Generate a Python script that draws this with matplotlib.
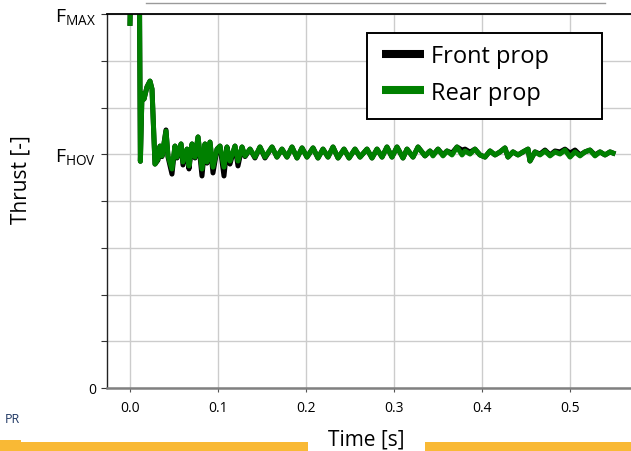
import matplotlib
matplotlib.use("Agg")
import matplotlib.pyplot as plt
from matplotlib.lines import Line2D
from matplotlib.patches import Rectangle

plt.rcParams['font.family'] = ['Open Sans', 'DejaVu Sans']
plt.rcParams['mathtext.fontset'] = 'custom'
plt.rcParams['mathtext.rm'] = 'Open Sans'

# thrust in % of hover thrust, F_MAX = 160
time_s = [0.0000, 0.0015, 0.0105, 0.0118, 0.0136, 0.0159, 0.0193, 0.0227, 0.0250, 0.0284,
          0.0318, 0.0341, 0.0364, 0.0409, 0.0432, 0.0477, 0.0511, 0.0534, 0.0580, 0.0602,
          0.0648, 0.0670, 0.0705, 0.0739, 0.0773, 0.0818, 0.0852, 0.0875, 0.0909, 0.0943,
          0.0989, 0.1023, 0.1068, 0.1102, 0.1136, 0.1193, 0.1227, 0.1273, 0.1307, 0.1364,
          0.1420, 0.1477, 0.1534, 0.1614, 0.1670, 0.1727, 0.1784, 0.1841, 0.1898, 0.1955,
          0.2011, 0.2080, 0.2136, 0.2193, 0.2250, 0.2307, 0.2364, 0.2432, 0.2489, 0.2557,
          0.2614, 0.2693, 0.2750, 0.2807, 0.2864, 0.2920, 0.2977, 0.3034, 0.3102, 0.3148,
          0.3216, 0.3273, 0.3352, 0.3409, 0.3443, 0.3500, 0.3557, 0.3602, 0.3659, 0.3716,
          0.3773, 0.3807, 0.3864, 0.3920, 0.3977, 0.4034, 0.4091, 0.4148, 0.4205, 0.4261,
          0.4295, 0.4352, 0.4409, 0.4466, 0.4523, 0.4545, 0.4602, 0.4659, 0.4716, 0.4773,
          0.4830, 0.4886, 0.4943, 0.5000, 0.5057, 0.5114, 0.5170, 0.5227, 0.5284, 0.5341,
          0.5398, 0.5455, 0.5489]

rear_prop = [156.0, 185.0, 185.0, 97.0, 125.8, 123.6, 128.8, 131.3, 127.9, 95.8,
             98.0, 103.5, 99.3, 109.9, 99.3, 93.7, 103.5, 98.8, 104.4, 96.7,
             102.2, 95.0, 104.4, 98.8, 107.4, 93.7, 104.4, 96.7, 105.2, 94.5,
             102.2, 103.5, 94.5, 103.1, 97.1, 103.5, 97.1, 103.1, 99.3, 102.2,
             98.8, 103.1, 98.8, 103.1, 98.8, 102.2, 98.8, 103.1, 98.4, 102.7,
             98.8, 102.7, 98.4, 102.2, 98.8, 103.1, 98.4, 102.2, 98.4, 102.2,
             98.8, 102.2, 98.4, 102.2, 98.8, 103.1, 98.8, 103.1, 98.4, 102.2,
             98.8, 103.1, 99.3, 101.4, 99.3, 102.2, 99.3, 101.4, 99.7, 103.1,
             99.7, 101.4, 100.1, 102.2, 99.7, 98.8, 101.4, 99.7, 101.0, 102.7,
             98.8, 101.0, 99.7, 101.0, 102.2, 97.1, 101.0, 99.7, 101.4, 99.3,
             101.0, 100.1, 101.8, 98.8, 101.0, 99.3, 101.0, 101.8, 99.3, 101.0,
             99.7, 101.0, 100.5]

front_prop = [156.0, 185.0, 185.0, 97.0, 125.8, 123.6, 128.8, 131.3, 127.9, 95.8,
              97.5, 103.5, 99.0, 110.4, 98.8, 91.5, 103.5, 98.4, 104.4, 95.4,
              102.2, 93.7, 104.4, 98.4, 107.4, 90.7, 104.4, 96.2, 105.2, 92.0,
              102.2, 103.5, 90.7, 103.1, 95.8, 103.5, 95.0, 103.1, 99.0, 102.2,
              98.4, 103.1, 98.4, 103.1, 98.8, 102.2, 98.8, 103.1, 98.4, 102.7,
              98.8, 102.7, 98.4, 102.2, 98.8, 103.1, 98.4, 102.2, 98.4, 102.2,
              98.8, 102.2, 98.4, 102.2, 98.8, 103.1, 98.8, 103.1, 98.4, 102.2,
              98.8, 103.1, 99.3, 101.4, 99.7, 102.2, 99.7, 101.4, 100.5, 103.1,
              101.8, 102.2, 100.9, 102.2, 99.7, 98.8, 101.4, 99.7, 101.0, 102.7,
              98.8, 101.0, 99.7, 101.0, 102.2, 97.1, 101.0, 100.1, 101.8, 99.7,
              101.4, 101.0, 102.2, 100.5, 101.8, 99.7, 101.0, 101.8, 99.7, 101.0,
              99.7, 101.0, 100.5]

y_ticks = [0, 20, 40, 60, 80, 100, 120, 140, 160]
y_tick_labels = ['0', '', '', '', '', r'$\mathrm{F}_{\mathrm{HOV}}$', '', '', r'$\mathrm{F}_{\mathrm{MAX}}$']
x_ticks = [0.0, 0.1, 0.2, 0.3, 0.4, 0.5]
x_tick_labels = ['0.0', '0.1', '0.2', '0.3', '0.4', '0.5']

W, H = 631, 452
fig = plt.figure(figsize=(W / 100, H / 100), dpi=100)
ax = fig.add_axes([107 / W, (H - 389) / H, (640 - 107) / W, (389 - 15) / H])

ax.plot(time_s, front_prop, color='black', lw=3.6, solid_joinstyle='round')
ax.plot(time_s, rear_prop, color='#008000', lw=3.6, solid_joinstyle='round')

ax.set_xlim(-23 / 880, 510 / 880)
ax.set_ylim(0, 160)
ax.set_xticks(x_ticks)
ax.set_xticklabels(x_tick_labels)
ax.set_yticks(y_ticks)
ax.set_yticklabels(y_tick_labels)
for i, lab in enumerate(ax.get_yticklabels()):
    lab.set_fontsize(14 if i in (5, 8) else 10)
ax.tick_params(axis='x', labelsize=10, length=3, color='#555555', pad=6)
ax.tick_params(axis='y', length=4, color='#333333', pad=4)
ax.grid(True, color='#cccccc', lw=1.0)
ax.set_axisbelow(True)

ax.spines['right'].set_visible(False)
ax.spines['top'].set_color('black')
ax.spines['top'].set_linewidth(1.3)
ax.spines['left'].set_color('#222222')
ax.spines['left'].set_linewidth(1.0)
ax.spines['bottom'].set_color('#808080')
ax.spines['bottom'].set_linewidth(1.8)

fig.text(21 / W, 1 - 180 / H, 'Thrust [-]', rotation=90, fontsize=15,
         ha='center', va='center')
fig.text(366 / W, 1 - 440 / H, 'Time [s]', fontsize=15, ha='center', va='center')

# legend frame drawn separately so it can be wider than its entries
fig.patches.append(Rectangle((367 / W, 1 - 120 / H), (602 - 367) / W, (120 - 34) / H,
                             transform=fig.transFigure, facecolor='white',
                             edgecolor='black', lw=1.4, zorder=5))
handles = [Line2D([], [], color='black', lw=5.8, solid_capstyle='butt'),
           Line2D([], [], color='#008000', lw=5.8, solid_capstyle='butt')]
leg = fig.legend(handles, ['Front prop', 'Rear prop'], loc='upper left',
                 bbox_to_anchor=(382 / W, 1 - 45 / H), frameon=False, fontsize=17,
                 handlelength=1.78, handletextpad=0.3, labelspacing=0.53,
                 borderaxespad=0, borderpad=0)
leg.set_zorder(6)

# slide decorations around the chart
fig.add_artist(Line2D([146 / W, 605 / W], [1 - 4 / H, 1 - 4 / H], color='#9a9a9a', lw=1.0))
fig.text(5 / W, 1 - 420 / H, 'PR', fontsize=9, color='#203864', ha='left', va='center')
orange = '#f9b935'
fig.patches.append(Rectangle((0, 0), 308 / W, 9 / H, transform=fig.transFigure,
                             facecolor=orange, edgecolor='none'))
fig.patches.append(Rectangle((0, 0), 21 / W, 11 / H, transform=fig.transFigure,
                             facecolor=orange, edgecolor='none'))
fig.patches.append(Rectangle((425 / W, 0), (W - 425) / W, 9 / H, transform=fig.transFigure,
                             facecolor=orange, edgecolor='none'))

fig.savefig('out.png', dpi=100)
